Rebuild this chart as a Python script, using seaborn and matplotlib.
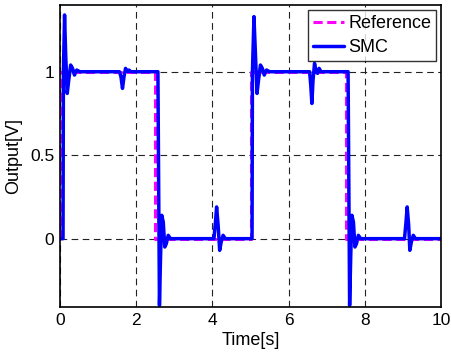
import numpy as np
import matplotlib
matplotlib.use("Agg")
import matplotlib.pyplot as plt
import seaborn as sns

# reference square wave
ref_t = [0.0, 0.0, 2.5, 2.5, 5.0, 5.0, 7.5, 7.5, 10.0]
ref_y = [0.0, 1.0, 1.0, 0.0, 0.0, 1.0, 1.0, 0.0, 0.0]

# SMC output
smc_t = [0.00, 0.08, 0.09, 0.12, 0.15, 0.19, 0.23, 0.28, 0.33, 0.38, 0.44, 0.52,
         1.56, 1.60, 1.64, 1.68, 1.72, 1.77, 1.81, 1.86,
         2.57, 2.61, 2.64, 2.67, 2.71, 2.75, 2.79, 2.84, 2.90,
         4.04, 4.08, 4.11, 4.15, 4.19, 4.23, 4.28, 4.34,
         5.04, 5.05, 5.09, 5.13, 5.17, 5.21, 5.26, 5.31, 5.36, 5.42, 5.50,
         6.55, 6.58, 6.61, 6.64, 6.68, 6.72, 6.76, 6.80, 6.85,
         7.56, 7.60, 7.63, 7.66, 7.70, 7.74, 7.78, 7.83, 7.89,
         9.04, 9.08, 9.11, 9.15, 9.18, 9.22, 9.27, 9.33, 10.0]
smc_y = [0.00, 0.00, 1.00, 1.34, 1.10, 0.87, 0.95, 1.04, 1.02, 0.98, 1.01, 1.00,
         1.00, 0.97, 0.90, 0.97, 1.02, 1.00, 1.01, 1.00,
         1.00, -0.40, -0.10, 0.14, 0.10, -0.05, -0.03, 0.02, 0.00,
         0.00, 0.10, 0.19, 0.08, -0.07, -0.02, 0.02, 0.00,
         0.00, 1.00, 1.33, 1.10, 0.87, 0.95, 1.04, 1.02, 0.98, 1.01, 1.00,
         1.00, 0.92, 0.81, 0.95, 1.05, 1.00, 0.99, 1.02, 1.00,
         1.00, -0.40, -0.10, 0.14, 0.10, -0.05, -0.03, 0.02, 0.00,
         0.00, 0.10, 0.19, 0.08, -0.07, -0.02, 0.02, 0.00, 0.00]

sns.set_style("white")
plt.rcParams['font.family'] = ['Liberation Sans', 'DejaVu Sans']
plt.rcParams['font.size'] = 12.5
plt.rcParams['text.color'] = 'black'
plt.rcParams['axes.labelcolor'] = 'black'

fig = plt.figure(figsize=(4.51, 3.53), dpi=100)
ax = fig.add_axes([0.133, 0.13, 0.845, 0.856])

sns.lineplot(x=ref_t, y=ref_y, sort=False, estimator=None, ax=ax,
             color='#ff00ff', linewidth=2.2, linestyle=(0, (3, 1.5)), label='Reference')
sns.lineplot(x=smc_t, y=smc_y, sort=False, estimator=None, ax=ax,
             color='#0000ff', linewidth=2.5, label='SMC')

ax.set_xlim(0, 10)
ax.set_ylim(-0.41, 1.4)
ax.set_xticks([0, 2, 4, 6, 8, 10])
ax.set_yticks([0, 0.5, 1])
ax.set_yticklabels(['0', '0.5', '1'])
ax.grid(True, color='#222222', linestyle=(0, (6, 4)), linewidth=0.8)
ax.set_axisbelow(True)
for s in ax.spines.values():
    s.set_color('black')
    s.set_linewidth(1.2)
ax.tick_params(direction='in', length=3, pad=4, labelsize=12.5, colors='black')
ax.set_xlabel('Time[s]', fontsize=13, labelpad=3)
ax.set_ylabel('Output[V]', fontsize=13, labelpad=6)

leg = ax.legend(loc='upper right', fontsize=13, frameon=True, fancybox=False,
                borderaxespad=0.3, handlelength=1.7, handletextpad=0.25,
                borderpad=0.25, labelspacing=0.4)
leg.get_frame().set_edgecolor('black')
leg.get_frame().set_linewidth(1.0)

fig.savefig('out.png', dpi=100)
